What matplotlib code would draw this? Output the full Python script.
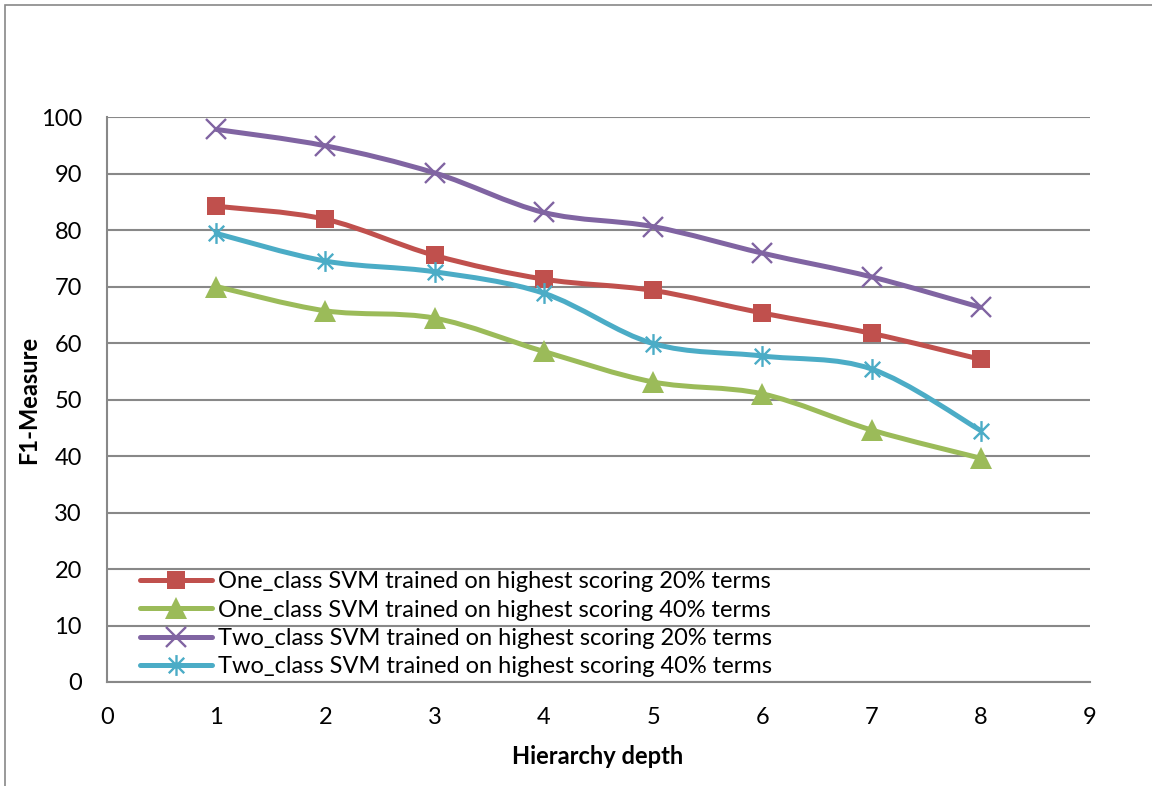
import numpy as np
import matplotlib
matplotlib.use("Agg")
import matplotlib.pyplot as plt
from matplotlib.path import Path
from matplotlib.patches import PathPatch, Rectangle
from matplotlib.lines import Line2D

plt.rcParams['font.family'] = ['Lato', 'DejaVu Sans']

depth = [1, 2, 3, 4, 5, 6, 7, 8]
one_20 = [84.2, 81.9, 75.5, 71.3, 69.3, 65.3, 61.7, 57.1]
one_40 = [70.0, 65.7, 64.4, 58.5, 53.1, 51.0, 44.6, 39.6]
two_20 = [97.8, 94.9, 90.1, 83.1, 80.6, 75.9, 71.7, 66.3]
two_40 = [79.4, 74.5, 72.6, 68.8, 59.9, 57.7, 55.4, 44.5]
labels = ["One_class SVM trained on highest scoring 20% terms",
          "One_class SVM trained on highest scoring 40% terms",
          "Two_class SVM trained on highest scoring 20% terms",
          "Two_class SVM trained on highest scoring 40% terms"]
colors = ['#C0504D', '#9BBB59', '#8064A2', '#4BACC6']

# excel style star marker: x plus vertical bar
star = Path([(-1, -1), (1, 1), (-1, 1), (1, -1), (0, -1.35), (0, 1.35)],
            [Path.MOVETO, Path.LINETO, Path.MOVETO, Path.LINETO, Path.MOVETO, Path.LINETO])
styles = [dict(marker='s', ms=13.5, mew=0),
          dict(marker='^', ms=15.5, mew=0),
          dict(marker='x', ms=14, mew=1.7),
          dict(marker=star, ms=15, mew=1.7)]


def smooth_path(x, y):
    # bezier segments like excel's smoothed line
    p = np.column_stack([x, y]).astype(float)
    ext = np.vstack([p[0], p, p[-1]])
    verts = [p[0]]
    codes = [Path.MOVETO]
    for i in range(len(p) - 1):
        c1 = ext[i + 1] + (ext[i + 2] - ext[i]) / 6
        c2 = ext[i + 2] - (ext[i + 3] - ext[i + 1]) / 6
        verts += [c1, c2, ext[i + 2]]
        codes += [Path.CURVE4] * 3
    return Path(verts, codes)


fig = plt.figure(figsize=(11.52, 7.86), dpi=100)
ax = fig.add_axes([107/1152, 1-682/786, 983/1152, 565/786])

handles = []
for i, (ys, c, st) in enumerate(zip([one_20, one_40, two_20, two_40], colors, styles)):
    ax.add_patch(PathPatch(smooth_path(depth, ys), fill=False, edgecolor=c,
                           lw=3.6, capstyle='round', joinstyle='round', zorder=3 + i))
    ax.plot(depth, ys, linestyle='none', color=c, mec=c, zorder=3 + i, **st)
    handles.append(Line2D([], [], color=c, mec=c, lw=3.6, solid_capstyle='round', **st))

ax.set_xlim(0, 9)
ax.set_ylim(0, 100)
ax.set_xticks(range(0, 10))
ax.set_yticks(range(0, 101, 10))
ax.tick_params(length=0, labelsize=17)
ax.tick_params(axis='y', pad=18)
ax.tick_params(axis='x', pad=18)
ax.grid(axis='y', color='#888888', lw=1.5)
ax.set_axisbelow(True)
for s in ['top', 'right']:
    ax.spines[s].set_visible(False)
for s in ['left', 'bottom']:
    ax.spines[s].set_color('#888888')
    ax.spines[s].set_linewidth(1.5)

ax.legend(handles, labels, loc='upper left', bbox_to_anchor=(0.034, 0.196),
          frameon=False, fontsize=17, handlelength=3.05, handletextpad=0.25,
          labelspacing=0.31, borderpad=0, borderaxespad=0)

fig.text(29/1152, 1-400/786, 'F1-Measure', rotation=90, ha='center', va='center',
         fontsize=17, fontweight='bold')
fig.text(598/1152, 1-757/786, 'Hierarchy depth', ha='center', va='center',
         fontsize=17, fontweight='bold')

fig.add_artist(Rectangle((4.5/1152, -0.1), 1.2, 1.1 - 4.5/786, transform=fig.transFigure,
                         fill=False, edgecolor='#888888', lw=1.2, clip_on=False))

fig.savefig('out.png', dpi=100)
